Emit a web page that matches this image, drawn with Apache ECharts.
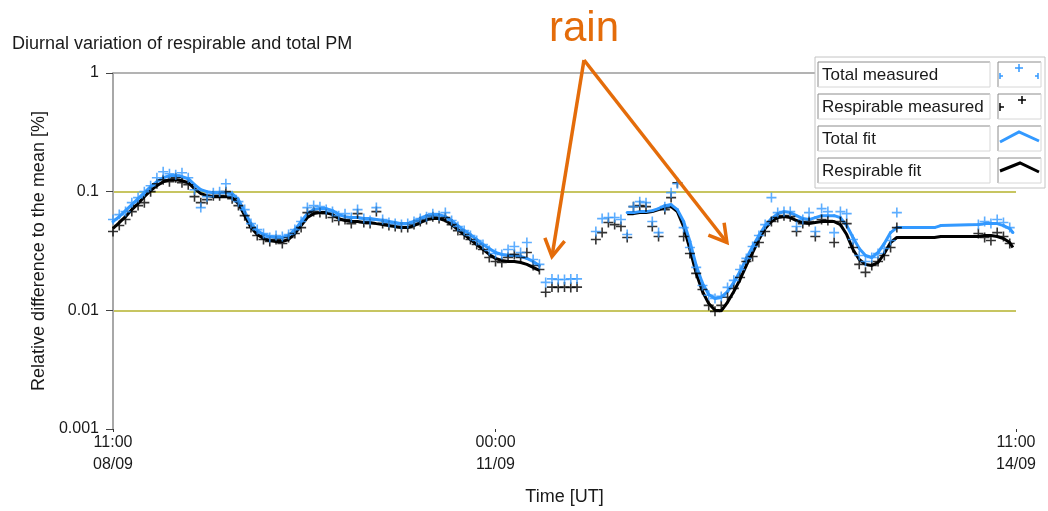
<!DOCTYPE html>
<html>
<head>
<meta charset="utf-8">
<script src="https://cdn.jsdelivr.net/npm/echarts@6/dist/echarts.min.js"></script>
<style>
  html, body { margin: 0; padding: 0; background: #ffffff; }
  #chart { width: 1048px; height: 511px; }
</style>
</head>
<body>
<div id="chart"></div>
<script>
// Time axis: hours since 08/09 11:00 UT
const tickHours = [0, 61, 144];
const tickLabels = ['11:00\n08/09', '00:00\n11/09', '11:00\n14/09'];
const yTickLabels = ['0.001', '0.01', '0.1', '1'];

// Fitted curves, hourly, first block starting at 08/09 11:00
const fitStartA = 0;
const totalFitA = [
  0.0560, 0.0616, 0.0692, 0.0778, 0.0873, 0.0981, 0.1101, 0.1213, 0.1311, 0.1363,
  0.1363, 0.1337, 0.1286, 0.1145, 0.1039, 0.1000, 0.0981, 0.0981, 0.0981, 0.0962,
  0.0857, 0.0679, 0.0538, 0.0470, 0.0435, 0.0419, 0.0411, 0.0411, 0.0427, 0.0479,
  0.0560, 0.0653, 0.0706, 0.0720, 0.0720, 0.0692, 0.0641, 0.0616, 0.0605, 0.0605,
  0.0593, 0.0593, 0.0582, 0.0571, 0.0560, 0.0549, 0.0538, 0.0538, 0.0560, 0.0593,
  0.0628, 0.0641, 0.0641, 0.0616, 0.0571, 0.0518, 0.0470, 0.0435, 0.0395, 0.0359,
  0.0332, 0.0307, 0.0296, 0.0290, 0.0290, 0.0284, 0.0274, 0.0258, 0.0239
];
const respFitA = [
  0.0489, 0.0549, 0.0616, 0.0706, 0.0793, 0.0908, 0.1019, 0.1123, 0.1213, 0.1261,
  0.1261, 0.1237, 0.1190, 0.1060, 0.0962, 0.0926, 0.0908, 0.0908, 0.0908, 0.0891,
  0.0793, 0.0628, 0.0498, 0.0435, 0.0403, 0.0388, 0.0380, 0.0380, 0.0395, 0.0444,
  0.0518, 0.0605, 0.0653, 0.0666, 0.0666, 0.0641, 0.0593, 0.0571, 0.0560, 0.0560,
  0.0549, 0.0549, 0.0538, 0.0528, 0.0518, 0.0508, 0.0498, 0.0498, 0.0518, 0.0549,
  0.0582, 0.0593, 0.0593, 0.0571, 0.0528, 0.0479, 0.0435, 0.0395, 0.0359, 0.0326,
  0.0296, 0.0274, 0.0263, 0.0258, 0.0258, 0.0253, 0.0244, 0.0230, 0.0217
];
// Second block of the fit, after the rain gap
const fitStartB = 82;
const totalFitB = [
  0.0666, 0.0666, 0.0679, 0.0679, 0.0692, 0.0720, 0.0763, 0.0778, 0.0706, 0.0560,
  0.0380, 0.0239, 0.0169, 0.0136, 0.0126, 0.0129, 0.0144, 0.0172, 0.0213, 0.0274,
  0.0345, 0.0427, 0.0518, 0.0593, 0.0653, 0.0679, 0.0666, 0.0628, 0.0593, 0.0582,
  0.0605, 0.0628, 0.0628, 0.0628, 0.0605, 0.0518, 0.0411, 0.0332, 0.0290, 0.0279,
  0.0307, 0.0366, 0.0452, 0.0498
];
const respFitB = [
  0.0653, 0.0653, 0.0666, 0.0666, 0.0679, 0.0706, 0.0734, 0.0748, 0.0679, 0.0508,
  0.0326, 0.0205, 0.0144, 0.0114, 0.0100, 0.0099, 0.0117, 0.0144, 0.0182, 0.0239,
  0.0307, 0.0395, 0.0489, 0.0560, 0.0605, 0.0616, 0.0605, 0.0571, 0.0549, 0.0538,
  0.0549, 0.0560, 0.0560, 0.0560, 0.0528, 0.0435, 0.0326, 0.0268, 0.0244, 0.0239,
  0.0253, 0.0301, 0.0373, 0.0411
];
// Sparse tail of the fit
const fitTailHours = [131, 132, 138, 139, 140, 141, 142, 143, 143.5];
const totalFitTail = [0.0498, 0.0518, 0.0528, 0.0538, 0.0538, 0.0538, 0.0518, 0.0489, 0.0452];
const respFitTail  = [0.0411, 0.0419, 0.0419, 0.0427, 0.0427, 0.0419, 0.0403, 0.0373, 0.0338];

// Measured hourly values
const measStartA = 0;
const totalMeasA = [
  0.0582, 0.0641, 0.0679, 0.0808, 0.0891, 0.1000, 0.1123, 0.1311, 0.1473, 0.1417,
  0.1390, 0.1445, 0.1311, 0.1039, 0.0734, 0.0908, 0.0981, 0.1000, 0.1167, 0.0926,
  0.0824, 0.0706, 0.0538, 0.0479, 0.0444, 0.0411, 0.0427, 0.0419, 0.0435, 0.0479,
  0.0560, 0.0734, 0.0763, 0.0748, 0.0706, 0.0679, 0.0628, 0.0653, 0.0605, 0.0706,
  0.0593, 0.0571, 0.0734, 0.0582, 0.0549, 0.0538, 0.0528, 0.0538, 0.0560, 0.0593,
  0.0616, 0.0653, 0.0628, 0.0666, 0.0571, 0.0508, 0.0470, 0.0427, 0.0388, 0.0359,
  0.0319, 0.0301, 0.0296, 0.0326, 0.0345, 0.0307, 0.0373, 0.0268, 0.0244
];
const respMeasA = [
  0.0461, 0.0518, 0.0582, 0.0679, 0.0763, 0.0808, 0.1000, 0.1167, 0.1261, 0.1213,
  0.1311, 0.1190, 0.1145, 0.0908, 0.0808, 0.0857, 0.0926, 0.0926, 0.1000, 0.0873,
  0.0763, 0.0628, 0.0498, 0.0427, 0.0395, 0.0380, 0.0395, 0.0366, 0.0411, 0.0444,
  0.0498, 0.0666, 0.0679, 0.0666, 0.0653, 0.0605, 0.0571, 0.0582, 0.0538, 0.0653,
  0.0549, 0.0538, 0.0679, 0.0538, 0.0518, 0.0508, 0.0498, 0.0498, 0.0528, 0.0560,
  0.0582, 0.0616, 0.0593, 0.0605, 0.0528, 0.0470, 0.0435, 0.0395, 0.0359, 0.0326,
  0.0279, 0.0258, 0.0253, 0.0279, 0.0296, 0.0279, 0.0307, 0.0239, 0.0221
];
const measStartRain = 69;
const totalMeasRain = [0.0172, 0.0184, 0.0182, 0.0182, 0.0184, 0.0184];
const respMeasRain  = [0.0142, 0.0157, 0.0156, 0.0157, 0.0156, 0.0157];
const measStartB = 77;
const totalMeasB = [
  0.0461, 0.0593, 0.0605, 0.0605, 0.0582, 0.0435, 0.0748, 0.0824, 0.0808, 0.0560,
  0.0452, 0.0748, 0.0981, 0.1167, 0.0498, 0.0338, 0.0230, 0.0162, 0.0134, 0.0126,
  0.0131, 0.0156, 0.0179, 0.0221, 0.0274, 0.0345, 0.0427, 0.0528, 0.0891, 0.0666,
  0.0679, 0.0679, 0.0508, 0.0582, 0.0666, 0.0461, 0.0720, 0.0679, 0.0452, 0.0679,
  0.0653, 0.0395, 0.0290, 0.0258, 0.0279, 0.0301, 0.0332, 0.0388, 0.0666
];
const respMeasB = [
  0.0395, 0.0452, 0.0549, 0.0528, 0.0508, 0.0411, 0.0748, 0.0763, 0.0748, 0.0508,
  0.0419, 0.0706, 0.0891, 0.1190, 0.0419, 0.0301, 0.0205, 0.0150, 0.0110, 0.0098,
  0.0110, 0.0129, 0.0153, 0.0189, 0.0258, 0.0284, 0.0373, 0.0461, 0.0560, 0.0605,
  0.0628, 0.0616, 0.0461, 0.0538, 0.0560, 0.0419, 0.0582, 0.0571, 0.0373, 0.0560,
  0.0538, 0.0338, 0.0244, 0.0209, 0.0239, 0.0258, 0.0290, 0.0338, 0.0498
];
const measStartC = 138;
const totalMeasC = [0.0528, 0.0560, 0.0538, 0.0582, 0.0549, 0.0498];
const respMeasC  = [0.0444, 0.0411, 0.0388, 0.0452, 0.0419, 0.0366];

// Points the "rain" arrows lead to: [hour, value]
const rainTargets = [[70.0, 0.0284], [97.9, 0.0373]];

const BLUE = '#3399ff';
const BLACK = '#000000';
const OLIVE = '#b5b22c';
const ORANGE = '#e46c0a';
const TEXT = '#1a1a1a';
const FONT = '"Liberation Sans", Arial, sans-serif';
const PLUS = 'path://M4.2,0h1.6v4.2h4.2v1.6h-4.2v4.2h-1.6v-4.2h-4.2v-1.6h4.2z';

function hourly(start, vals) {
  return vals.map((v, i) => [start + i, v]);
}
function paired(hours, vals) {
  return hours.map((h, i) => [h, vals[i]]);
}

const totalFitData = hourly(fitStartA, totalFitA)
  .concat([[75, '-']])
  .concat(hourly(fitStartB, totalFitB))
  .concat(paired(fitTailHours, totalFitTail));
const respFitData = hourly(fitStartA, respFitA)
  .concat([[75, '-']])
  .concat(hourly(fitStartB, respFitB))
  .concat(paired(fitTailHours, respFitTail));
const totalMeasData = hourly(measStartA, totalMeasA)
  .concat(hourly(measStartRain, totalMeasRain))
  .concat(hourly(measStartB, totalMeasB))
  .concat(hourly(measStartC, totalMeasC));
const respMeasData = hourly(measStartA, respMeasA)
  .concat(hourly(measStartRain, respMeasRain))
  .concat(hourly(measStartB, respMeasB))
  .concat(hourly(measStartC, respMeasC));

const chart = echarts.init(document.getElementById('chart'), null, { renderer: 'canvas' });

const option = {
  animation: false,
  backgroundColor: '#ffffff',
  title: {
    text: 'Diurnal variation of respirable and total PM',
    left: 12,
    top: 35,
    padding: 0,
    textStyle: { fontFamily: FONT, fontSize: 18, fontWeight: 'normal', color: TEXT }
  },
  grid: { left: 113, right: 32, top: 73, bottom: 81, containLabel: false },
  xAxis: {
    type: 'value',
    min: 0,
    max: 144,
    name: 'Time [UT]',
    nameLocation: 'middle',
    nameGap: 59,
    nameTextStyle: { fontFamily: FONT, fontSize: 18, color: TEXT },
    axisLine: { show: false },
    axisTick: { show: true, customValues: tickHours, length: 3, lineStyle: { color: '#333333', width: 1 } },
    axisLabel: {
      customValues: tickHours,
      formatter: v => tickLabels[tickHours.indexOf(v)],
      margin: 3,
      lineHeight: 22,
      fontFamily: FONT,
      fontSize: 16,
      color: TEXT
    },
    splitLine: { show: false }
  },
  yAxis: {
    type: 'log',
    logBase: 10,
    min: 0.001,
    max: 1,
    name: 'Relative difference to the mean [%]',
    nameLocation: 'middle',
    nameRotate: 90,
    nameGap: 58,
    nameTextStyle: { fontFamily: FONT, fontSize: 18, color: TEXT },
    axisLine: { show: true, onZero: false, lineStyle: { color: '#a8a8a8', width: 2 } },
    axisTick: { show: true, length: 7, lineStyle: { color: '#444444', width: 1 } },
    axisLabel: {
      margin: 14,
      fontFamily: FONT,
      fontSize: 16,
      color: TEXT,
      formatter: v => yTickLabels[Math.round(Math.log10(v)) + 3]
    },
    splitLine: {
      show: true,
      lineStyle: { color: ['rgba(0,0,0,0)', OLIVE, OLIVE, '#9a9a9a'], width: 1.5 }
    },
    minorTick: { show: false },
    minorSplitLine: { show: false }
  },
  series: [
    {
      name: 'Respirable fit',
      type: 'line',
      data: respFitData,
      showSymbol: false,
      connectNulls: false,
      lineStyle: { color: BLACK, width: 3 },
      itemStyle: { color: BLACK },
      z: 2
    },
    {
      name: 'Total fit',
      type: 'line',
      data: totalFitData,
      symbol: 'circle',
      symbolSize: 3,
      showSymbol: true,
      connectNulls: false,
      lineStyle: { color: BLUE, width: 3 },
      itemStyle: { color: BLUE },
      z: 3
    },
    {
      name: 'Respirable measured',
      type: 'scatter',
      data: respMeasData,
      symbol: PLUS,
      symbolSize: 10,
      itemStyle: { color: BLACK },
      z: 4
    },
    {
      name: 'Total measured',
      type: 'scatter',
      data: totalMeasData,
      symbol: PLUS,
      symbolSize: 10,
      itemStyle: { color: BLUE },
      z: 5
    }
  ]
};

chart.setOption(option);

// ---- legend panel (boxed labels with sample glyphs) ----
function seg(x1, y1, x2, y2, color, width) {
  return { type: 'line', shape: { x1, y1, x2, y2 }, style: { stroke: color, lineWidth: width || 1 }, z: 101, silent: true };
}
function plusGlyph(cx, cy, color, half, keepLeft, keepRight) {
  const out = [seg(cx, cy - half, cx, cy + half, color, 1.5)];
  out.push(seg(keepLeft ? cx - half : cx, cy, keepRight ? cx + half : cx, cy, color, 1.5));
  return out;
}

const legendRows = [
  { label: 'Total measured', top: 62 },
  { label: 'Respirable measured', top: 94 },
  { label: 'Total fit', top: 126 },
  { label: 'Respirable fit', top: 158 }
];

const graphics = [];
graphics.push({
  type: 'rect', shape: { x: 815, y: 57, width: 230, height: 131 },
  style: { fill: '#ffffff', stroke: '#c4c4c4', lineWidth: 1 }, z: 100, silent: true
});
legendRows.forEach(r => {
  const lx = 818, lw = 172, sx = 998, sw = 43, h = 25;
  graphics.push({ type: 'rect', shape: { x: lx, y: r.top, width: lw, height: h }, style: { fill: '#ffffff' }, z: 100, silent: true });
  graphics.push(seg(lx, r.top, lx + lw, r.top, '#8c8c8c', 1));
  graphics.push(seg(lx, r.top, lx, r.top + h, '#8c8c8c', 1));
  graphics.push(seg(lx, r.top + h, lx + lw, r.top + h, '#d6d6d6', 1));
  graphics.push(seg(lx + lw, r.top, lx + lw, r.top + h, '#d6d6d6', 1));
  graphics.push(seg(sx, r.top, sx + sw, r.top, '#8c8c8c', 1));
  graphics.push(seg(sx, r.top, sx, r.top + h, '#8c8c8c', 1));
  graphics.push(seg(sx, r.top + h, sx + sw, r.top + h, '#d6d6d6', 1));
  graphics.push(seg(sx + sw, r.top, sx + sw, r.top + h, '#d6d6d6', 1));
  graphics.push({
    type: 'text', z: 101, silent: true,
    style: {
      text: r.label, x: lx + 4, y: r.top + h / 2 + 1,
      font: '17px ' + FONT, fill: TEXT,
      textAlign: 'left', textVerticalAlign: 'middle', align: 'left', verticalAlign: 'middle'
    }
  });
});
// sample glyphs
graphics.push(...plusGlyph(1019, 68, BLUE, 4, true, true));
graphics.push(...plusGlyph(1000, 76, BLUE, 3, false, true));
graphics.push(...plusGlyph(1038, 76, BLUE, 3, true, false));
graphics.push(...plusGlyph(1022, 100, BLACK, 4, true, true));
graphics.push(...plusGlyph(1000, 107, BLACK, 4, false, true));
graphics.push({ type: 'polyline', shape: { points: [[1000, 142], [1019, 132], [1039, 141]] }, style: { stroke: BLUE, lineWidth: 3, fill: null }, z: 101, silent: true });
graphics.push({ type: 'polyline', shape: { points: [[1000, 171], [1020, 163], [1039, 172]] }, style: { stroke: BLACK, lineWidth: 3, fill: null }, z: 101, silent: true });

// ---- "rain" annotation ----
const apex = [584, 60];
graphics.push({
  type: 'text', z: 110, silent: true,
  style: {
    text: 'rain', x: 584, y: 29, font: '42px ' + FONT, fill: ORANGE,
    textAlign: 'center', textVerticalAlign: 'middle', align: 'center', verticalAlign: 'middle'
  }
});
rainTargets.forEach(t => {
  const tip = chart.convertToPixel({ xAxisIndex: 0, yAxisIndex: 0 }, t);
  graphics.push(seg(apex[0], apex[1], tip[0], tip[1], ORANGE, 3.5));
  const dx = apex[0] - tip[0], dy = apex[1] - tip[1];
  const len = Math.sqrt(dx * dx + dy * dy);
  const ux = dx / len, uy = dy / len;
  const a = Math.PI / 6, L = 20;
  const p1 = [tip[0] + L * (ux * Math.cos(a) - uy * Math.sin(a)), tip[1] + L * (ux * Math.sin(a) + uy * Math.cos(a))];
  const p2 = [tip[0] + L * (ux * Math.cos(-a) - uy * Math.sin(-a)), tip[1] + L * (ux * Math.sin(-a) + uy * Math.cos(-a))];
  graphics.push({
    type: 'polyline', z: 110, silent: true,
    shape: { points: [p1, tip, p2] },
    style: { stroke: ORANGE, lineWidth: 3.5, fill: null, lineJoin: 'miter' }
  });
});

chart.setOption({ graphic: graphics });
</script>
</body>
</html>
